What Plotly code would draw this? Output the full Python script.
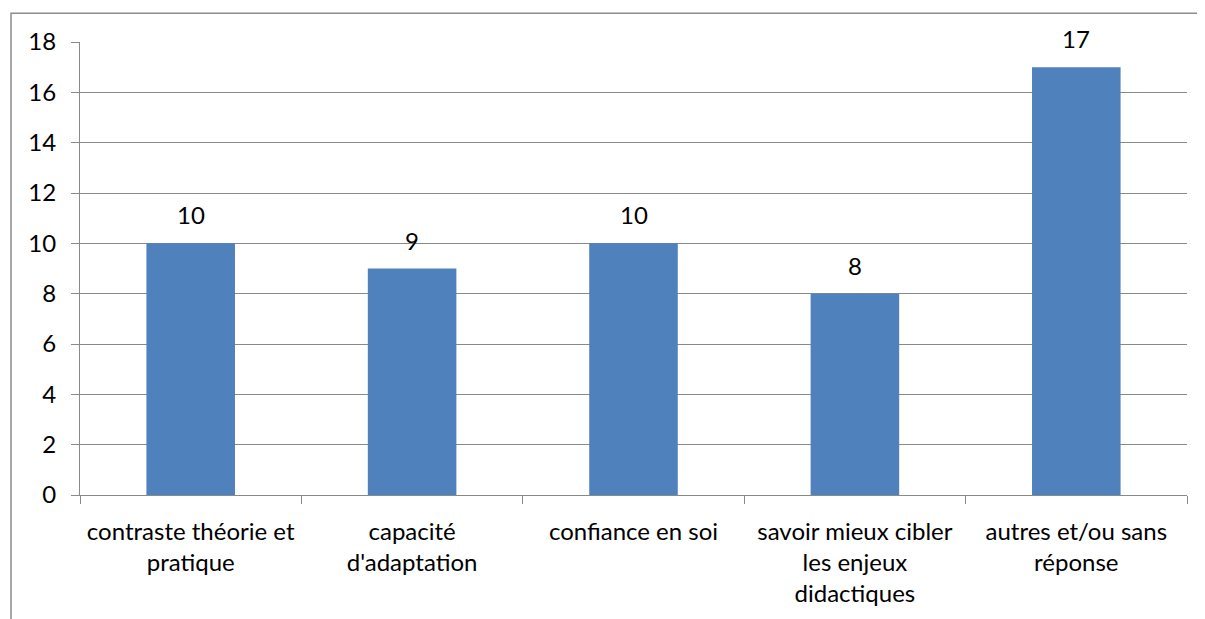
import plotly.graph_objects as go

categories = ["contraste théorie et<br>pratique", "capacité<br>d'adaptation", "confiance en soi",
              "savoir mieux cibler<br>les enjeux<br>didactiques", "autres et/ou sans<br>réponse"]
values = [10, 9, 10, 8, 17]
y_ticks = [0, 2, 4, 6, 8, 10, 12, 14, 16, 18]

FONT = "Lato"
FS = 24
GRID = "#898989"

fig = go.Figure(go.Bar(
    x=categories, y=values,
    marker=dict(color="#4F81BD", line=dict(width=0)),
    cliponaxis=False,
))

annotations = [dict(x=c, y=v, xref="x", yref="y", text=str(v), showarrow=False,
                    yanchor="bottom", yshift=12,
                    font=dict(family=FONT, size=FS, color="black"))
               for c, v in zip(categories, values)]

# page body has an 8px margin, so the figure is shrunk by 8px and margins shifted
fig.update_layout(
    width=1197, height=611,
    margin=dict(l=72, r=18, t=34, b=122),
    paper_bgcolor="white", plot_bgcolor="white",
    bargap=0.6, showlegend=False,
    font=dict(family=FONT, size=FS, color="black"),
    annotations=annotations,
    shapes=[dict(type="rect", xref="paper", yref="paper",
                 x0=-69/1107, x1=1.2, y0=-0.6, y1=1 + 29/455,
                 line=dict(color="#8c8c8c", width=1.5), fillcolor="rgba(0,0,0,0)", layer="below")],
)
fig.update_yaxes(range=[0, 18], tickvals=y_ticks, showgrid=True, gridcolor=GRID, gridwidth=1.2,
                 showline=True, linecolor=GRID, linewidth=1.2, ticks="outside", ticklen=8,
                 tickcolor=GRID, tickwidth=1.2, zeroline=False, ticklabelstandoff=10,
                 tickfont=dict(family=FONT, size=FS, color="black"))
fig.update_xaxes(showline=True, linecolor=GRID, linewidth=1.2, ticks="outside", ticklen=8,
                 tickcolor=GRID, tickwidth=1.2, tickson="boundaries", showgrid=False,
                 ticklabelstandoff=15, tickangle=0,
                 tickfont=dict(family=FONT, size=FS, color="black"))

fig.write_html("out.html")
